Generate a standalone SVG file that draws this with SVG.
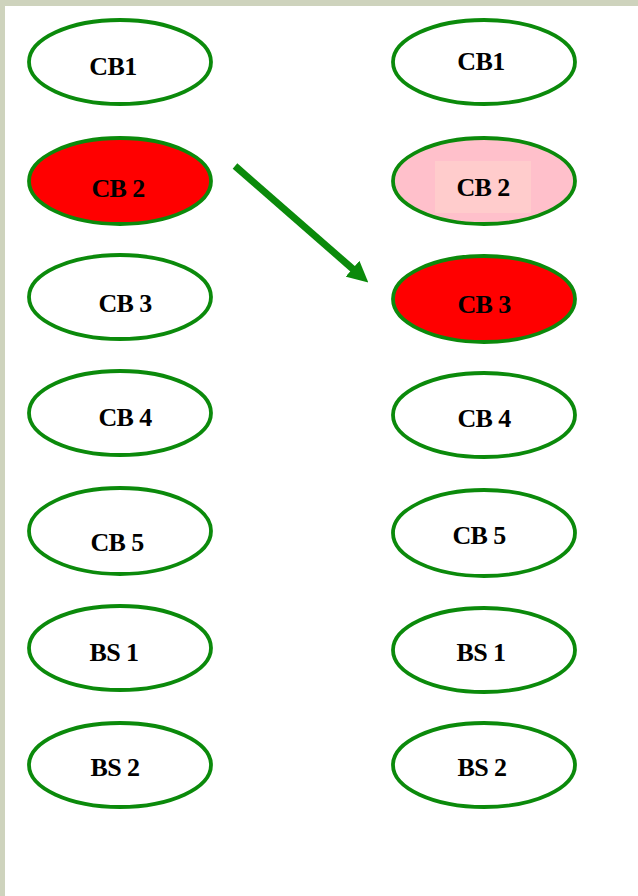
<svg xmlns="http://www.w3.org/2000/svg" width="638" height="896" viewBox="0 0 638 896">
  <defs>
    <style>
      .n { fill: #ffffff; stroke: #0b8a0b; stroke-width: 3.8; }
      .red { fill: #ff0000; }
      .pink { fill: #ffc0cb; }
      .t { font-family: "Liberation Serif", "Times New Roman", serif; font-weight: bold; font-size: 26px; fill: #000; text-anchor: middle; letter-spacing: -0.6px; }
    </style>
    <marker id="ah" viewBox="0 0 10 10" refX="6" refY="5" markerWidth="3" markerHeight="3" orient="auto" markerUnits="strokeWidth">
      <path d="M0,0 L10,5 L0,10 z" fill="#0b8a0b"/>
    </marker>
  </defs>
  <rect x="0" y="0" width="638" height="896" fill="#ffffff"/>
  <rect x="0" y="0" width="638" height="6" fill="#ced3bd"/>
  <rect x="0" y="0" width="5" height="896" fill="#ced3bd"/>

  <g id="L-CB1"><ellipse class="n" cx="120" cy="62" rx="91" ry="42"/><text class="t" x="113" y="75">CB1</text></g>
  <g id="L-CB2"><ellipse class="n red" cx="120" cy="181" rx="91" ry="43"/><text class="t" x="118" y="197">CB 2</text></g>
  <g id="L-CB3"><ellipse class="n" cx="120" cy="297" rx="91" ry="42"/><text class="t" x="125" y="312">CB 3</text></g>
  <g id="L-CB4"><ellipse class="n" cx="120" cy="413" rx="91" ry="42"/><text class="t" x="125" y="426">CB 4</text></g>
  <g id="L-CB5"><ellipse class="n" cx="120" cy="531" rx="91" ry="43"/><text class="t" x="117" y="551">CB 5</text></g>
  <g id="L-BS1"><ellipse class="n" cx="120" cy="648" rx="91" ry="42"/><text class="t" x="114" y="661">BS 1</text></g>
  <g id="L-BS2"><ellipse class="n" cx="120" cy="765" rx="91" ry="42"/><text class="t" x="115" y="776">BS 2</text></g>

  <g id="R-CB1"><ellipse class="n" cx="484" cy="62" rx="91" ry="42"/><text class="t" x="481" y="70">CB1</text></g>
  <g id="R-CB2"><ellipse class="n pink" cx="484" cy="181" rx="91" ry="43"/><rect x="435" y="161" width="96" height="52" fill="#ffcccc"/><text class="t" x="483" y="196">CB 2</text></g>
  <g id="R-CB3"><ellipse class="n red" cx="484" cy="299" rx="91" ry="43"/><text class="t" x="484" y="313">CB 3</text></g>
  <g id="R-CB4"><ellipse class="n" cx="484" cy="415" rx="91" ry="42"/><text class="t" x="484" y="427">CB 4</text></g>
  <g id="R-CB5"><ellipse class="n" cx="484" cy="533" rx="91" ry="43"/><text class="t" x="479" y="544">CB 5</text></g>
  <g id="R-BS1"><ellipse class="n" cx="484" cy="650" rx="91" ry="42"/><text class="t" x="481" y="661">BS 1</text></g>
  <g id="R-BS2"><ellipse class="n" cx="484" cy="765" rx="91" ry="42"/><text class="t" x="482" y="776">BS 2</text></g>

  <g id="connectors">
    <line x1="235" y1="166" x2="362" y2="277" stroke="#0b8a0b" stroke-width="7" marker-end="url(#ah)"/>
  </g>
</svg>
